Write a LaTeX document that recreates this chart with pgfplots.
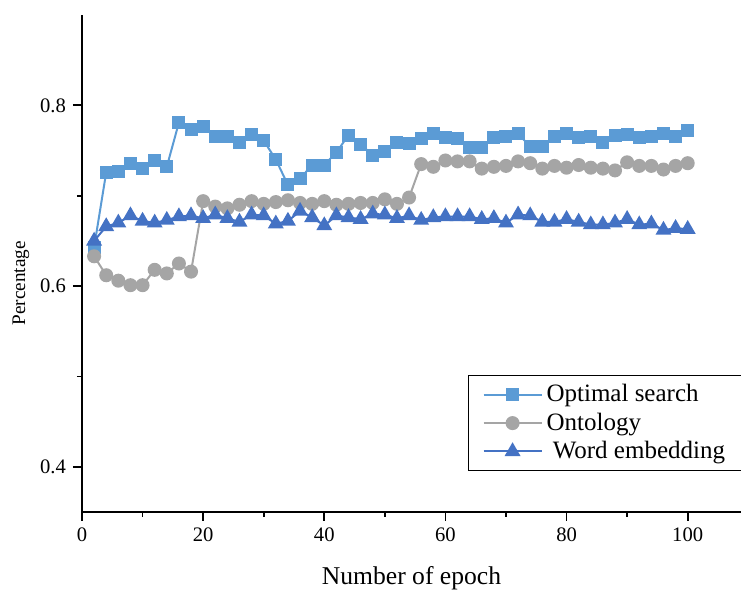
\documentclass[border=0pt]{standalone}
\usepackage{fontspec}
\setmainfont{Liberation Serif}
\usepackage{pgfplots}
\pgfplotsset{compat=1.18}
\definecolor{cOpt}{HTML}{5B9BD5}
\definecolor{cOnt}{HTML}{A5A5A5}
\definecolor{cWord}{HTML}{4472C4}
\begin{document}
\begin{tikzpicture}
\begin{axis}[
  at={(0,0)}, anchor=south west,
  scale only axis,
  width=329.5pt, height=248.5pt,
  xmin=0, xmax=108.8, ymin=0.35, ymax=0.9,
  axis lines=left,
  axis line style={-, line width=1pt},
  xtick={0,20,40,60,80,100},
  minor xtick={10,30,50,70,90},
  ytick={0.4,0.6,0.8},
  minor ytick={0.5,0.7},
  yticklabels={0.4,0.6,0.8},
  tick align=outside,
  major tick length=4.5pt,
  minor tick length=2.5pt,
  every tick/.style={black, line width=0.9pt},
  tick label style={font=\fontsize{10.3}{12}\selectfont},
  /pgf/number format/assume math mode=true,
  xlabel={Number of epoch},
  ylabel={Percentage},
  xlabel style={font=\fontsize{12.8}{15}\selectfont, at={(axis description cs:0.5,-0.133)}, anchor=center},
  ylabel style={font=\fontsize{9.6}{11}\selectfont, at={(axis description cs:-0.0926,0.46)}, anchor=center},
  legend style={at={(axis description cs:0.5857,0.2757)}, anchor=north west,
    draw=black, line width=0.6pt, font=\fontsize{12.5}{15.5}\selectfont,
    inner xsep=7pt, inner ysep=2.5pt, row sep=0pt, cells={anchor=west}},
  legend image code/.code={\draw[mark repeat=2,mark phase=2] plot coordinates {(0pt,0pt) (14.5pt,0pt) (29pt,0pt)};},
  clip=false,
]
\addplot[color=cOpt, line width=1pt, mark=square*, mark size=2.75pt, mark options={solid, fill=cOpt, draw=cOpt}] coordinates {
(2,0.643)(4,0.726)(6,0.727)(8,0.736)(10,0.730)(12,0.739)(14,0.732)(16,0.781)(18,0.773)(20,0.777)
(22,0.765)(24,0.765)(26,0.759)(28,0.768)(30,0.761)(32,0.740)(34,0.712)(36,0.719)(38,0.734)(40,0.734)
(42,0.748)(44,0.767)(46,0.757)(48,0.745)(50,0.749)(52,0.759)(54,0.758)(56,0.763)(58,0.769)(60,0.764)
(62,0.763)(64,0.753)(66,0.753)(68,0.764)(70,0.765)(72,0.769)(74,0.754)(76,0.754)(78,0.765)(80,0.769)
(82,0.764)(84,0.765)(86,0.759)(88,0.767)(90,0.768)(92,0.764)(94,0.765)(96,0.769)(98,0.766)(100,0.772)
};
\addlegendentry{Optimal search}
\addplot[color=cOnt, line width=1pt, mark=*, mark size=3pt, mark options={solid, fill=cOnt, draw=cOnt}] coordinates {
(2,0.633)(4,0.612)(6,0.606)(8,0.601)(10,0.601)(12,0.618)(14,0.614)(16,0.625)(18,0.616)(20,0.694)
(22,0.688)(24,0.686)(26,0.690)(28,0.694)(30,0.691)(32,0.693)(34,0.695)(36,0.692)(38,0.691)(40,0.694)
(42,0.690)(44,0.691)(46,0.692)(48,0.692)(50,0.696)(52,0.691)(54,0.698)(56,0.735)(58,0.732)(60,0.739)
(62,0.738)(64,0.738)(66,0.730)(68,0.732)(70,0.733)(72,0.738)(74,0.736)(76,0.730)(78,0.733)(80,0.731)
(82,0.734)(84,0.731)(86,0.730)(88,0.728)(90,0.737)(92,0.733)(94,0.733)(96,0.729)(98,0.733)(100,0.736)
};
\addlegendentry{Ontology}
\addplot[color=cWord, line width=1pt, mark=triangle*, mark size=3.6pt, mark options={solid, fill=cWord, draw=cWord}] coordinates {
(2,0.650)(4,0.666)(6,0.670)(8,0.678)(10,0.672)(12,0.670)(14,0.673)(16,0.677)(18,0.678)(20,0.675)
(22,0.679)(24,0.675)(26,0.671)(28,0.679)(30,0.678)(32,0.669)(34,0.672)(36,0.683)(38,0.676)(40,0.667)
(42,0.678)(44,0.676)(46,0.674)(48,0.680)(50,0.679)(52,0.675)(54,0.678)(56,0.673)(58,0.676)(60,0.677)
(62,0.677)(64,0.677)(66,0.674)(68,0.675)(70,0.670)(72,0.679)(74,0.678)(76,0.671)(78,0.671)(80,0.674)
(82,0.671)(84,0.668)(86,0.668)(88,0.670)(90,0.674)(92,0.668)(94,0.669)(96,0.662)(98,0.664)(100,0.663)
};
\addlegendentry{\ Word embedding}
\end{axis}
\pgfresetboundingbox
\path[use as bounding box] (-41pt,-39pt) rectangle (329.5pt,256pt);
\end{tikzpicture}
\end{document}
